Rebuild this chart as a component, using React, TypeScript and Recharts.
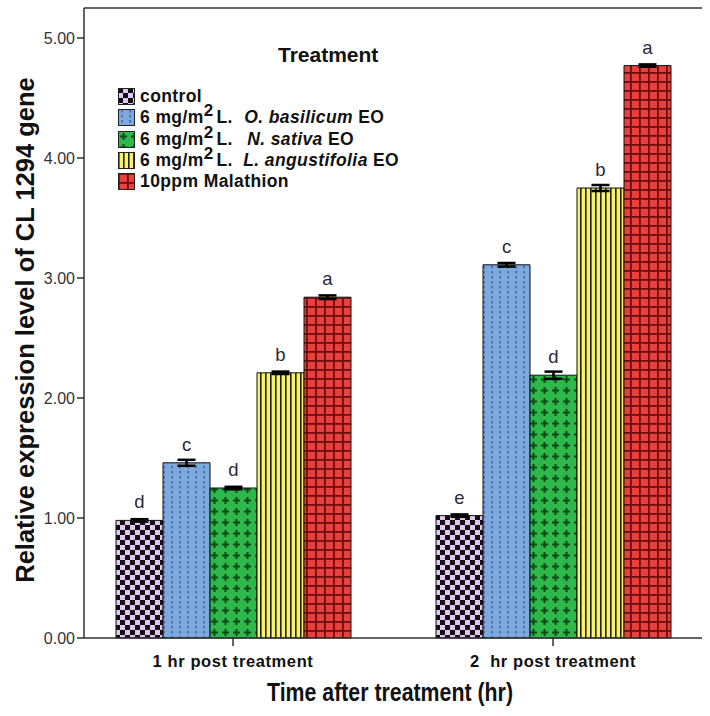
import { BarChart, Bar, XAxis, YAxis, ErrorBar, LabelList, Legend } from 'recharts';

const CATEGORIES = ['1 hr post treatment', '2  hr post treatment'];
const CONTROL = [0.98, 1.02];
const BASILICUM = [1.46, 3.11];
const SATIVA = [1.25, 2.19];
const ANGUSTIFOLIA = [2.21, 3.75];
const MALATHION = [2.84, 4.77];
const ERR_CONTROL = [0.01, 0.01];
const ERR_BASILICUM = [0.025, 0.015];
const ERR_SATIVA = [0.01, 0.03];
const ERR_ANGUSTIFOLIA = [0.01, 0.025];
const ERR_MALATHION = [0.015, 0.01];
const LET_CONTROL = ['d', 'e'];
const LET_BASILICUM = ['c', 'c'];
const LET_SATIVA = ['d', 'd'];
const LET_ANGUSTIFOLIA = ['b', 'b'];
const LET_MALATHION = ['a', 'a'];
const Y_TICKS = [0, 1, 2, 3, 4, 5];

const data = CATEGORIES.map((name, i) => ({
  name,
  control: CONTROL[i],
  basilicum: BASILICUM[i],
  sativa: SATIVA[i],
  angustifolia: ANGUSTIFOLIA[i],
  malathion: MALATHION[i],
  eControl: ERR_CONTROL[i],
  eBasilicum: ERR_BASILICUM[i],
  eSativa: ERR_SATIVA[i],
  eAngustifolia: ERR_ANGUSTIFOLIA[i],
  eMalathion: ERR_MALATHION[i],
  lControl: LET_CONTROL[i],
  lBasilicum: LET_BASILICUM[i],
  lSativa: LET_SATIVA[i],
  lAngustifolia: LET_ANGUSTIFOLIA[i],
  lMalathion: LET_MALATHION[i],
}));

const FONT = '"Liberation Sans", Arial, sans-serif';
const AXIS = '#333';

const SERIES = [
  { key: 'control', err: 'eControl', lab: 'lControl', fill: 'url(#pControl)' },
  { key: 'basilicum', err: 'eBasilicum', lab: 'lBasilicum', fill: 'url(#pBasil)' },
  { key: 'sativa', err: 'eSativa', lab: 'lSativa', fill: 'url(#pSativa)' },
  { key: 'angustifolia', err: 'eAngustifolia', lab: 'lAngustifolia', fill: 'url(#pLav)' },
  { key: 'malathion', err: 'eMalathion', lab: 'lMalathion', fill: 'url(#pMal)' },
];

const Patterns = () => (
  <defs>
    <pattern id="pControl" patternUnits="userSpaceOnUse" width="10" height="10">
      <rect width="10" height="10" fill="#e3c6f2" />
      <rect x="0" y="0" width="5" height="5" fill="#111" />
      <rect x="5" y="5" width="5" height="5" fill="#111" />
    </pattern>
    <pattern id="pBasil" patternUnits="userSpaceOnUse" width="8" height="5">
      <rect width="8" height="5" fill="#7ea9dc" />
      <rect x="3.5" y="1" width="1.2" height="2.4" fill="#2c4c98" />
    </pattern>
    <pattern id="pSativa" patternUnits="userSpaceOnUse" width="11" height="11">
      <rect width="11" height="11" fill="#2eb84c" />
      <rect x="4.5" y="2" width="2" height="7" fill="#0b4816" />
      <rect x="2" y="4.5" width="7" height="2" fill="#0b4816" />
    </pattern>
    <pattern id="pLav" patternUnits="userSpaceOnUse" width="5" height="5">
      <rect width="5" height="5" fill="#f6f26c" />
      <rect x="0" y="0" width="1.6" height="5" fill="#222" />
    </pattern>
    <pattern id="pMal" patternUnits="userSpaceOnUse" width="9" height="9">
      <rect width="9" height="9" fill="#e8403f" />
      <rect x="0" y="0" width="9" height="1.8" fill="#6e0c0c" />
      <rect x="0" y="0" width="1.8" height="9" fill="#6e0c0c" />
    </pattern>
  </defs>
);

const Sup = () => (
  <span style={{ position: 'relative', top: -7, fontSize: 17, marginRight: 3 }}>2</span>
);

const LEGEND_ROWS = [
  { fill: 'url(#pControl)', body: <>control</> },
  { fill: 'url(#pBasil)', body: <>6 mg/m<Sup />L. <i style={{ marginLeft: 6 }}>O. basilicum</i> EO</> },
  { fill: 'url(#pSativa)', body: <>6 mg/m<Sup />L. <i style={{ marginLeft: 9 }}>N. sativa</i> EO</> },
  { fill: 'url(#pLav)', body: <>6 mg/m<Sup />L. <i style={{ marginLeft: 5 }}>L. angustifolia</i> EO</> },
  { fill: 'url(#pMal)', body: <>10ppm Malathion</> },
];

const LegendBox = () => (
  <div style={{ fontFamily: FONT, fontWeight: 'bold', color: '#111', width: 0, height: 0, overflow: 'visible' }}>
    <div style={{ fontSize: 21, lineHeight: '24px', marginLeft: 160, marginBottom: 19, whiteSpace: 'nowrap' }}>
      Treatment
    </div>
    {LEGEND_ROWS.map((r, i) => (
      <div key={i} style={{ display: 'flex', alignItems: 'center', height: 21.3, fontSize: 17.5, letterSpacing: 0.4 }}>
        <svg width="17" height="17" style={{ marginRight: 5, flexShrink: 0 }}>
          <rect x="0.5" y="0.5" width="16" height="16" fill={r.fill} stroke="#222" />
        </svg>
        <span style={{ whiteSpace: 'nowrap' }}>{r.body}</span>
      </div>
    ))}
  </div>
);

const XTick = (props: any) => {
  const { x, y, payload } = props;
  return (
    <text
      x={x}
      y={y + 13}
      textAnchor="middle"
      dominantBaseline="central"
      style={{ fontFamily: FONT, fontWeight: 'bold', fontSize: 16.5, fill: '#111', letterSpacing: 0.6, whiteSpace: 'pre' }}
    >
      {payload.value}
    </text>
  );
};

const YLabel = () => (
  <text
    x={25}
    y={330}
    transform="rotate(-90 25 330)"
    textAnchor="middle"
    dominantBaseline="central"
    style={{ fontFamily: FONT, fontWeight: 'bold', fontSize: 25.5, fill: '#111' }}
  >
    Relative expression level of CL 1294 gene
  </text>
);

const XLabel = () => (
  <text
    x={390}
    y={692}
    textAnchor="middle"
    dominantBaseline="central"
    textLength={246}
    lengthAdjust="spacingAndGlyphs"
    style={{ fontFamily: FONT, fontWeight: 'bold', fontSize: 25, fill: '#111' }}
  >
    Time after treatment (hr)
  </text>
);

export default function App() {
  return (
    <div style={{ position: 'absolute', left: 0, top: 0, background: '#fff' }}>
      <BarChart
        width={710}
        height={716}
        data={data}
        margin={{ top: 7, right: 8, left: 0, bottom: 0 }}
        barGap={0}
        barSize={47}
      >
        <Patterns />
        <XAxis
          dataKey="name"
          height={78}
          padding={{ left: -11, right: -11 }}
          stroke={AXIS}
          strokeWidth={1.5}
          tickSize={8}
          tick={<XTick />}
          label={<XLabel />}
        />
        <XAxis
          xAxisId="top"
          dataKey="name"
          orientation="top"
          height={1}
          padding={{ left: -11, right: -11 }}
          stroke={AXIS}
          strokeWidth={1.5}
          tick={false}
          tickLine={false}
        />
        <YAxis
          width={84}
          domain={[0, 5.25]}
          ticks={Y_TICKS}
          stroke={AXIS}
          strokeWidth={1.5}
          tickSize={7}
          tickFormatter={(v: number) => v.toFixed(2)}
          tick={{ fontFamily: FONT, fontSize: 16, fill: '#333' }}
          label={<YLabel />}
        />
        <YAxis
          yAxisId="right"
          orientation="right"
          width={0}
          domain={[0, 5.25]}
          stroke={AXIS}
          strokeWidth={1.5}
          tick={false}
          tickLine={false}
        />
        <Legend
          verticalAlign="top"
          align="left"
          layout="vertical"
          content={<LegendBox />}
          wrapperStyle={{ position: 'absolute', left: 118, top: 43, width: 0, height: 0, overflow: 'visible' }}
        />
        {SERIES.map((s) => (
          <Bar
            key={s.key}
            dataKey={s.key}
            fill={s.fill}
            stroke="#111"
            strokeWidth={1}
            isAnimationActive={false}
          >
            <ErrorBar dataKey={s.err} width={9} stroke="#000" strokeWidth={2.5} />
            <LabelList
              dataKey={s.lab}
              position="top"
              offset={12}
              style={{ fontFamily: FONT, fontSize: 18.5, fill: '#2a2a3a' }}
            />
          </Bar>
        ))}
      </BarChart>
    </div>
  );
}
